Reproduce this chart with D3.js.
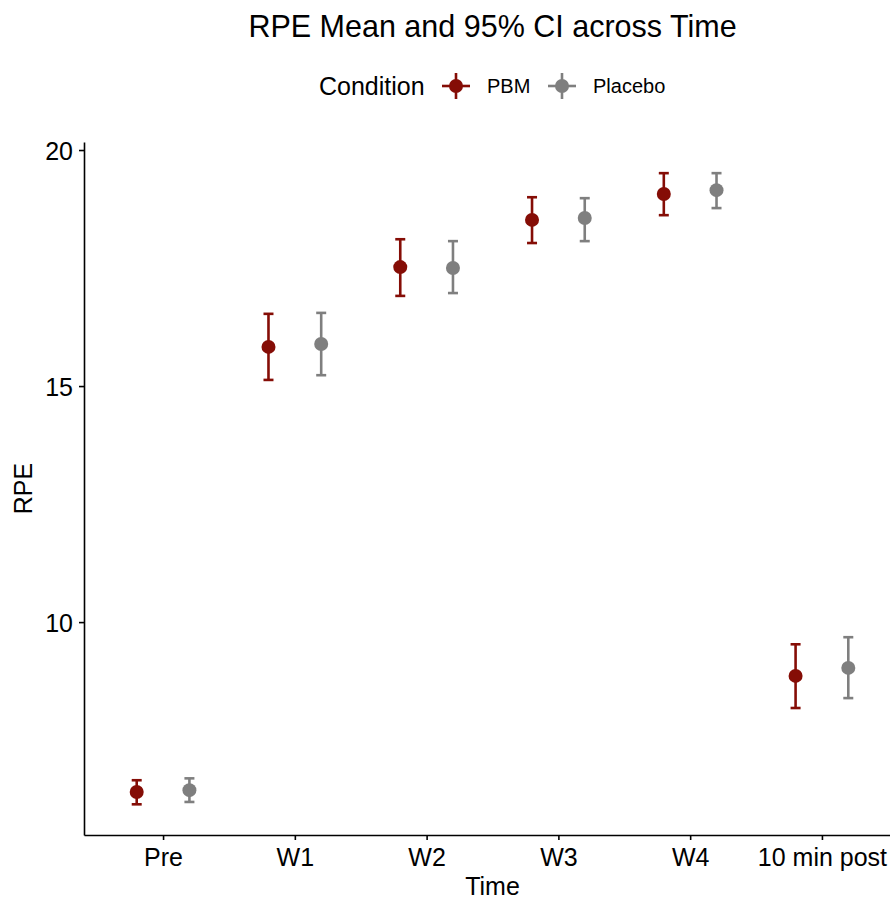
<!DOCTYPE html>
<meta charset="utf-8">
<head>
  <title>RPE Mean and 95% CI</title>
  <script src="https://d3js.org/d3.v7.min.js"></script>
  <style>
    body { margin: 0; background: #fff; }
    text { font-family: "Liberation Sans", Arial, sans-serif; }
  </style>
</head>
<body>
<div id="chart"></div>
<script>
  // data
  var times = ["Pre", "W1", "W2", "W3", "W4", "10 min post"]
  var conditions = ["PBM", "Placebo"]
  var pbmMean  = [6.40, 15.83, 17.52, 18.52, 19.07, 8.86]
  var pbmLow   = [6.14, 15.13, 16.91, 18.03, 18.62, 8.18]
  var pbmHigh  = [6.65, 16.53, 18.11, 19.00, 19.51, 9.53]
  var plcMean  = [6.44, 15.89, 17.50, 18.56, 19.15, 9.03]
  var plcLow   = [6.19, 15.23, 16.97, 18.07, 18.77, 8.39]
  var plcHigh  = [6.69, 16.55, 18.07, 18.98, 19.51, 9.68]
  var yTicks = [10, 15, 20]

  var colors = {"PBM": "#850d06", "Placebo": "#7f7f7f"}

  var rows = []
  times.forEach(function (t, i) {
    rows.push({time: t, cond: "PBM", mean: pbmMean[i], lo: pbmLow[i], hi: pbmHigh[i]})
    rows.push({time: t, cond: "Placebo", mean: plcMean[i], lo: plcLow[i], hi: plcHigh[i]})
  })

  var W = 890, H = 900
  var mLeft = 84, mRight = 901, mTop = 142, mBottom = 835

  var svg = d3.select("#chart").append("svg")
    .attr("width", W).attr("height", H)

  var x = d3.scalePoint().domain(times).range([mLeft, mRight]).padding(0.6)
  var dodge = d3.scalePoint().domain(conditions).range([-0.2, 0.2])
  var y = d3.scaleLinear().domain([5.49, 20.17]).range([mBottom, mTop])

  // axes
  var yAxis = svg.append("g")
    .attr("transform", "translate(" + mLeft + ",0)")
    .call(d3.axisLeft(y).tickValues(yTicks).tickSize(5).tickPadding(6).tickSizeOuter(0))
  var xAxis = svg.append("g")
    .attr("transform", "translate(0," + mBottom + ")")
    .call(d3.axisBottom(x).tickSize(5).tickPadding(7).tickSizeOuter(0))

  ;[xAxis, yAxis].forEach(function (g) {
    g.select(".domain").attr("stroke", "#000").attr("stroke-width", 1.6)
    g.selectAll(".tick line").attr("stroke", "#000").attr("stroke-width", 1.6)
    g.selectAll(".tick text").attr("fill", "#000").style("font-size", "25px")
  })
  xAxis.selectAll(".tick text").attr("dy", "0.75em")
  yAxis.selectAll(".tick text").attr("dy", "0.36em")

  // error bars and points
  var step = x.step()
  var cap = 5
  var g = svg.append("g")
  var bars = g.selectAll("g.bar").data(rows).join("g")
    .attr("class", "bar")
    .attr("transform", d => "translate(" + (x(d.time) + dodge(d.cond) * step) + ",0)")

  bars.append("line")
    .attr("y1", d => y(d.lo)).attr("y2", d => y(d.hi))
    .attr("stroke", d => colors[d.cond]).attr("stroke-width", 2.6)
  bars.append("line")
    .attr("x1", -cap).attr("x2", cap)
    .attr("y1", d => y(d.hi)).attr("y2", d => y(d.hi))
    .attr("stroke", d => colors[d.cond]).attr("stroke-width", 2.6)
  bars.append("line")
    .attr("x1", -cap).attr("x2", cap)
    .attr("y1", d => y(d.lo)).attr("y2", d => y(d.lo))
    .attr("stroke", d => colors[d.cond]).attr("stroke-width", 2.6)
  bars.append("circle")
    .attr("cy", d => y(d.mean)).attr("r", 7)
    .attr("fill", d => colors[d.cond])

  // titles
  var cx = (mLeft + mRight) / 2
  svg.append("text").attr("x", cx).attr("y", 37)
    .attr("text-anchor", "middle").style("font-size", "30.5px")
    .text("RPE Mean and 95% CI across Time")
  svg.append("text").attr("x", cx).attr("y", 895)
    .attr("text-anchor", "middle").style("font-size", "25px")
    .text("Time")
  svg.append("text")
    .attr("transform", "translate(32," + ((mTop + mBottom) / 2) + ") rotate(-90)")
    .attr("text-anchor", "middle").style("font-size", "25px")
    .text("RPE")

  // legend
  var leg = svg.append("g")
  leg.append("text").attr("x", 319).attr("y", 95)
    .style("font-size", "25px").text("Condition")
  var keyX = [456, 562]
  conditions.forEach(function (c, i) {
    var k = leg.append("g").attr("transform", "translate(" + keyX[i] + ",86)")
    k.append("line").attr("x1", -14).attr("x2", 14)
      .attr("stroke", colors[c]).attr("stroke-width", 2.6)
    k.append("line").attr("y1", -13).attr("y2", 13)
      .attr("stroke", colors[c]).attr("stroke-width", 2.6)
    k.append("circle").attr("r", 7).attr("fill", colors[c])
    leg.append("text").attr("x", keyX[i] + 31).attr("y", 93)
      .style("font-size", "20px").text(c)
  })
</script>
</body>
